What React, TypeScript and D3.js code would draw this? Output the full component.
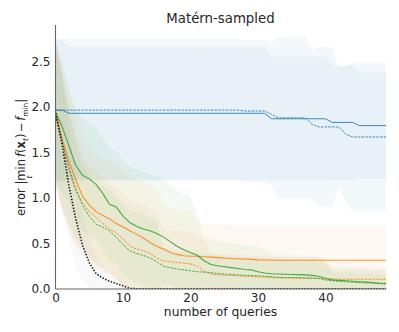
import React, { useRef, useEffect } from 'react';
import * as d3 from 'd3';

// number of queries 0..49
const queries = d3.range(0, 50);

// mean error per query
const blueSolid = [
  1.965, 1.965, 1.93, 1.93, 1.93, 1.93, 1.93, 1.93, 1.93, 1.93,
  1.93, 1.93, 1.93, 1.93, 1.93, 1.93, 1.93, 1.93, 1.93, 1.93,
  1.93, 1.93, 1.93, 1.93, 1.93, 1.93, 1.93, 1.93, 1.93, 1.93,
  1.93, 1.93, 1.87, 1.87, 1.87, 1.87, 1.87, 1.87, 1.87, 1.87,
  1.87, 1.83, 1.83, 1.83, 1.83, 1.795, 1.795, 1.795, 1.795, 1.795,
];
const blueSolidStd = [
  0.77, 0.77, 0.73, 0.73, 0.73, 0.73, 0.73, 0.73, 0.73, 0.73,
  0.73, 0.73, 0.73, 0.73, 0.73, 0.73, 0.73, 0.73, 0.73, 0.73,
  0.73, 0.73, 0.73, 0.73, 0.73, 0.73, 0.73, 0.73, 0.73, 0.73,
  0.73, 0.73, 0.68, 0.68, 0.68, 0.68, 0.68, 0.68, 0.68, 0.68,
  0.68, 0.63, 0.63, 0.63, 0.63, 0.58, 0.58, 0.58, 0.58, 0.58,
];
const blueDashed = [
  1.965, 1.965, 1.965, 1.965, 1.965, 1.965, 1.965, 1.965, 1.965, 1.965,
  1.965, 1.965, 1.965, 1.965, 1.965, 1.965, 1.965, 1.965, 1.965, 1.965,
  1.965, 1.965, 1.965, 1.965, 1.965, 1.965, 1.965, 1.965, 1.955, 1.955,
  1.955, 1.955, 1.92, 1.88, 1.88, 1.88, 1.88, 1.88, 1.81, 1.78,
  1.78, 1.78, 1.78, 1.70, 1.67, 1.67, 1.67, 1.67, 1.67, 1.67,
];
const blueDashedStd = [
  0.78, 0.78, 0.78, 0.78, 0.78, 0.78, 0.78, 0.78, 0.78, 0.78,
  0.78, 0.78, 0.78, 0.78, 0.78, 0.78, 0.78, 0.78, 0.78, 0.78,
  0.78, 0.78, 0.78, 0.78, 0.78, 0.78, 0.78, 0.78, 0.78, 0.78,
  0.78, 0.78, 0.78, 0.89, 0.89, 0.89, 0.89, 0.89, 0.82, 0.88,
  0.88, 0.88, 0.66, 0.74, 0.82, 0.82, 0.82, 0.82, 0.82, 0.82,
];
const orangeSolid = [
  1.95, 1.65, 1.40, 1.20, 1.02, 0.92, 0.85, 0.81, 0.77, 0.72,
  0.68, 0.64, 0.60, 0.56, 0.51, 0.47, 0.44, 0.40, 0.38, 0.365,
  0.36, 0.36, 0.355, 0.35, 0.345, 0.34, 0.335, 0.33, 0.33, 0.325,
  0.32, 0.318, 0.316, 0.316, 0.316, 0.316, 0.316, 0.316, 0.316, 0.316,
  0.316, 0.316, 0.316, 0.316, 0.316, 0.316, 0.316, 0.316, 0.316, 0.316,
];
const orangeSolidStd = [
  0.78, 0.77, 0.75, 0.72, 0.62, 0.62, 0.62, 0.62, 0.62, 0.62,
  0.62, 0.62, 0.62, 0.62, 0.62, 0.62, 0.50, 0.50, 0.50, 0.50,
  0.50, 0.37, 0.37, 0.37, 0.37, 0.37, 0.37, 0.37, 0.37, 0.37,
  0.37, 0.37, 0.37, 0.37, 0.37, 0.37, 0.37, 0.37, 0.37, 0.37,
  0.37, 0.37, 0.37, 0.37, 0.37, 0.37, 0.37, 0.37, 0.37, 0.37,
];
const orangeDashed = [
  1.93, 1.60, 1.30, 1.08, 0.95, 0.85, 0.79, 0.72, 0.66, 0.62,
  0.55, 0.47, 0.44, 0.42, 0.39, 0.34, 0.31, 0.30, 0.29, 0.285,
  0.275, 0.25, 0.20, 0.165, 0.155, 0.152, 0.148, 0.145, 0.14, 0.137,
  0.133, 0.13, 0.127, 0.122, 0.121, 0.12, 0.12, 0.119, 0.119, 0.118,
  0.118, 0.11, 0.107, 0.107, 0.107, 0.107, 0.107, 0.107, 0.107, 0.107,
];
const orangeDashedStd = [
  0.78, 0.75, 0.68, 0.60, 0.50, 0.50, 0.50, 0.50, 0.50, 0.50,
  0.50, 0.50, 0.50, 0.50, 0.50, 0.50, 0.35, 0.35, 0.35, 0.35,
  0.35, 0.35, 0.35, 0.23, 0.23, 0.23, 0.23, 0.23, 0.23, 0.23,
  0.23, 0.23, 0.23, 0.23, 0.23, 0.23, 0.23, 0.23, 0.23, 0.23,
  0.23, 0.11, 0.11, 0.11, 0.11, 0.11, 0.11, 0.11, 0.11, 0.11,
];
const greenSolid = [
  1.95, 1.78, 1.57, 1.36, 1.25, 1.21, 1.15, 1.05, 0.93, 0.90,
  0.80, 0.73, 0.69, 0.66, 0.64, 0.61, 0.57, 0.52, 0.47, 0.43,
  0.40, 0.37, 0.31, 0.27, 0.255, 0.245, 0.235, 0.225, 0.215, 0.21,
  0.19, 0.175, 0.168, 0.165, 0.162, 0.16, 0.158, 0.155, 0.15, 0.14,
  0.115, 0.10, 0.095, 0.09, 0.085, 0.08, 0.075, 0.07, 0.06, 0.055,
];
const greenSolidStd = [
  0.78, 0.72, 0.62, 0.62, 0.62, 0.62, 0.62, 0.62, 0.62, 0.62,
  0.62, 0.62, 0.62, 0.62, 0.62, 0.62, 0.62, 0.62, 0.62, 0.62,
  0.62, 0.45, 0.27, 0.27, 0.27, 0.27, 0.27, 0.27, 0.27, 0.27,
  0.27, 0.27, 0.21, 0.21, 0.21, 0.21, 0.21, 0.21, 0.21, 0.21,
  0.155, 0.155, 0.155, 0.155, 0.155, 0.155, 0.155, 0.155, 0.155, 0.155,
];
const greenDashed = [
  1.93, 1.62, 1.33, 1.10, 0.92, 0.80, 0.71, 0.68, 0.64, 0.57,
  0.49, 0.42, 0.39, 0.37, 0.34, 0.30, 0.25, 0.235, 0.22, 0.21,
  0.20, 0.19, 0.185, 0.18, 0.17, 0.165, 0.16, 0.155, 0.15, 0.148,
  0.145, 0.14, 0.135, 0.128, 0.126, 0.125, 0.124, 0.122, 0.12, 0.115,
  0.10, 0.09, 0.085, 0.08, 0.075, 0.07, 0.068, 0.065, 0.065, 0.065,
];
const greenDashedStd = [
  0.78, 0.72, 0.62, 0.55, 0.45, 0.45, 0.45, 0.45, 0.45, 0.45,
  0.45, 0.45, 0.45, 0.45, 0.45, 0.45, 0.20, 0.20, 0.20, 0.20,
  0.20, 0.20, 0.20, 0.20, 0.20, 0.20, 0.20, 0.20, 0.20, 0.20,
  0.20, 0.20, 0.20, 0.20, 0.20, 0.20, 0.20, 0.20, 0.20, 0.20,
  0.20, 0.10, 0.10, 0.10, 0.10, 0.10, 0.10, 0.10, 0.10, 0.10,
];
const blackDotted = [
  1.93, 1.58, 1.13, 0.77, 0.48, 0.29, 0.17, 0.12, 0.085, 0.06,
  0.035, 0.006, 0.003, 0.003, 0.003, 0.003, 0.003, 0.003, 0.003, 0.003,
  0.003, 0.003, 0.003, 0.003, 0.003, 0.003, 0.003, 0.003, 0.003, 0.003,
  0.003, 0.003, 0.003, 0.003, 0.003, 0.003, 0.003, 0.003, 0.003, 0.003,
  0.003, 0.003, 0.003, 0.003, 0.003, 0.003, 0.003, 0.003, 0.003, 0.003,
];
const blackDottedStd = [
  0.75, 0.72, 0.62, 0.50, 0.38, 0.27, 0.18, 0.13, 0.10, 0.08,
  0.05, 0.01, 0.005, 0.005, 0.005, 0.005, 0.005, 0.005, 0.005, 0.005,
  0.005, 0.005, 0.005, 0.005, 0.005, 0.005, 0.005, 0.005, 0.005, 0.005,
  0.005, 0.005, 0.005, 0.005, 0.005, 0.005, 0.005, 0.005, 0.005, 0.005,
  0.005, 0.005, 0.005, 0.005, 0.005, 0.005, 0.005, 0.005, 0.005, 0.005,
];

const xTicks = [0, 10, 20, 30, 40];
const yTicks = [0, 0.5, 1.0, 1.5, 2.0, 2.5];

const series = [
  { mean: blueSolid, std: blueSolidStd, color: '#1f77b4', dash: null, width: 1, band: 0.055 },
  { mean: blueDashed, std: blueDashedStd, color: '#1f77b4', dash: '2.5,1.2', width: 1, band: 0.055 },
  { mean: orangeSolid, std: orangeSolidStd, color: '#ff7f0e', dash: null, width: 1.1, band: 0.055 },
  { mean: orangeDashed, std: orangeDashedStd, color: '#ff7f0e', dash: '2.5,1.2', width: 1, band: 0.055 },
  { mean: greenSolid, std: greenSolidStd, color: '#2ca02c', dash: null, width: 1.1, band: 0.055 },
  { mean: greenDashed, std: greenDashedStd, color: '#2ca02c', dash: '2.5,1.2', width: 1, band: 0.055 },
  { mean: blackDotted, std: blackDottedStd, color: '#000000', dash: '1.4,1.6', width: 1.6, band: 0.025 },
];

const width = 399;
const height = 332;
const margin = { top: 25, right: 12.75, bottom: 43, left: 55.5 };
const font = '"DejaVu Sans", sans-serif';

const App = () => {
  const xAxisRef = useRef(null);
  const yAxisRef = useRef(null);

  const x = d3.scaleLinear().domain([0, 49]).range([margin.left, width - margin.right]);
  const y = d3.scaleLinear().domain([0, 2.9]).range([height - margin.bottom, margin.top]);

  useEffect(() => {
    const xAxis = d3.axisBottom(x).tickValues(xTicks).tickSize(0).tickPadding(4)
      .tickFormat(d3.format('d'));
    const yAxis = d3.axisLeft(y).tickValues(yTicks).tickSize(0).tickPadding(5)
      .tickFormat(d3.format('.1f'));

    const gx = d3.select(xAxisRef.current).call(xAxis);
    const gy = d3.select(yAxisRef.current).call(yAxis);
    [gx, gy].forEach(g => {
      g.select('.domain').remove();
      g.selectAll('text')
        .attr('font-family', font)
        .attr('font-size', 12)
        .attr('fill', '#262626');
    });
  }, []);

  const area = (s) => d3.area()
    .x((d, i) => x(queries[i]))
    .y0((d, i) => y(s.mean[i] - s.std[i]))
    .y1((d, i) => y(s.mean[i] + s.std[i]))(s.mean);
  const line = d3.line().x((d, i) => x(queries[i])).y(d => y(d));

  const bottom = height - margin.bottom;

  return (
    <svg width={width} height={height} style={{ position: 'absolute', left: 0, top: 0 }}>
      <defs>
        <clipPath id="plot">
          <rect x={margin.left} y={margin.top} width={width - margin.left - margin.right}
            height={bottom - margin.top} />
        </clipPath>
      </defs>
      <rect width={width} height={height} fill="#fff" />

      <g clipPath="url(#plot)">
        {series.map((s, i) => (
          <path key={'band' + i} d={area(s)} fill={s.color} fillOpacity={s.band} stroke="none" />
        ))}
        {series.map((s, i) => (
          <path key={'line' + i} d={line(s.mean)} fill="none" stroke={s.color}
            strokeOpacity={s.color === '#000000' ? 0.9 : 0.85}
            strokeWidth={s.width} strokeDasharray={s.dash || undefined} />
        ))}
      </g>

      {/* spines: left and bottom only */}
      <line x1={margin.left} x2={margin.left} y1={margin.top} y2={bottom} stroke="#666" strokeWidth={1.1} />
      <line x1={margin.left} x2={width - margin.right} y1={bottom} y2={bottom} stroke="#666" strokeWidth={1.1} />

      <g ref={xAxisRef} transform={`translate(0,${bottom})`} />
      <g ref={yAxisRef} transform={`translate(${margin.left},0)`} />

      <text x={220.5} y={22.5} textAnchor="middle" fontFamily={font} fontSize={13.3} fill="#262626">
        Matérn-sampled
      </text>
      <text x={220.5} y={316} textAnchor="middle" fontFamily={font} fontSize={12.3} fill="#262626">
        number of queries
      </text>

      <g transform="translate(25,216) rotate(-90)" fontFamily={font} fill="#262626">
        <text x={0} y={0} fontSize={11.5}>
          error |min
          <tspan dx={2} fontStyle="italic">f</tspan>
          <tspan>(</tspan>
          <tspan fontWeight="bold">x</tspan>
          <tspan fontSize={7.5} dy={2.5} fontStyle="italic">t</tspan>
          <tspan dy={-2.5}>)</tspan>
          <tspan dx={1.5}>−</tspan>
          <tspan dx={1.5} fontStyle="italic">f</tspan>
          <tspan fontSize={7.5} dy={2.5}>min</tspan>
          <tspan dy={-2.5}>|</tspan>
        </text>
        <text x={39} y={6.5} fontSize={7.5} fontStyle="italic" textAnchor="middle">t</text>
      </g>
    </svg>
  );
};

export default App;
